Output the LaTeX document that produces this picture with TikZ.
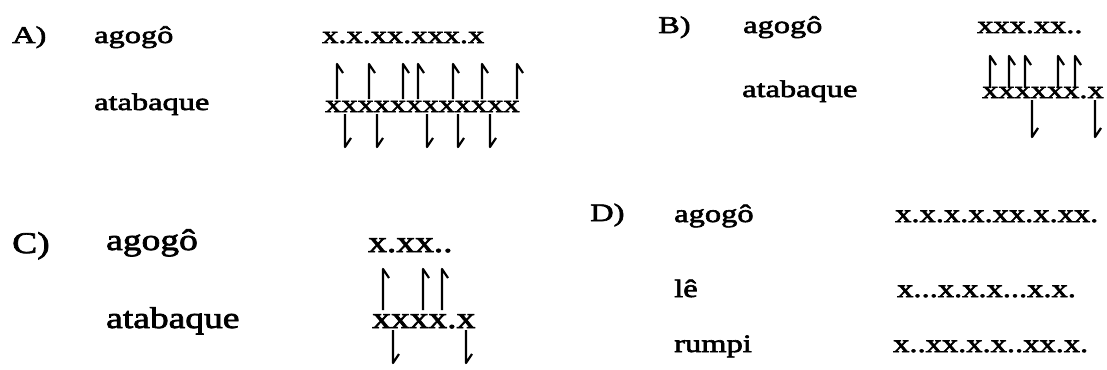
\documentclass[tikz,border=0pt]{standalone}
\usepackage{fontspec}
\setmainfont{Liberation Serif}
\newfontfamily\fontAB{Liberation Serif}[FakeStretch=1.35,FakeBold=2.5]
\newfontfamily\fontC{Liberation Serif}[FakeStretch=1.25,FakeBold=2.5]
\newfontfamily\fontD{Liberation Serif}[FakeStretch=1.3,FakeBold=2.5]

\tikzset{
  txtAB/.style={anchor=base west, inner sep=0pt, font=\fontAB\fontsize{24}{24}\selectfont},
  txtC/.style={anchor=base west, inner sep=0pt, font=\fontC\fontsize{30}{30}\selectfont},
  txtD/.style={anchor=base west, inner sep=0pt, font=\fontD\fontsize{25}{25}\selectfont},
  stroke/.style={line width=2.2pt, line join=round, line cap=butt}
}
% hand strokes: stem plus a barb on the right-hand side
\newcommand\strokeup[3]{\draw[stroke] (#1,#2) -- (#1,#3) -- ++(6,9);}
\newcommand\strokedown[3]{\draw[stroke] (#1,#2) -- (#1,#3) -- ++(6,-9);}

\begin{document}
\begin{tikzpicture}[x=1pt,y=-1pt]
\fill[white] (0,0) rectangle (1107,369);
\useasboundingbox (0,0) rectangle (1107,369);

% ---- A ----
\node[txtAB] (labA) at (12,43) {A)};
\node[txtAB] (agoA) at (94,43) {agogô};
\node[txtAB] (ataA) at (94,110) {atabaque};
\node[txtAB] (patA1) at (322,43) {x.x.xx.xxx.x};
\node[txtAB] (patA2) at (325,112) {xxxxxxxxxxxx};
\foreach \u in {337,369,403,418,453,482,517} {\strokeup{\u}{99}{64}}
\foreach \d in {345,377,427,458,490} {\strokedown{\d}{114}{147}}

% ---- B ----
\node[txtAB] (labB) at (658,33) {B)};
\node[txtAB] (agoB) at (743,33) {agogô};
\node[txtAB] (ataB) at (742,97) {atabaque};
\node[txtAB] (patB1) at (977,33) {xxx.xx..};
\node[txtAB] (patB2) at (982,98) {xxxxxx.x};
\foreach \u in {990,1009,1025,1058,1075} {\strokeup{\u}{88}{56}}
\foreach \d in {1032,1095} {\strokedown{\d}{100}{137}}

% ---- C ----
\node[txtC] (labC) at (12,253) {C)};
\node[txtC] (agoC) at (106,250) {agogô};
\node[txtC] (ataC) at (106,328) {atabaque};
\node[txtC] (patC1) at (368,252) {x.xx..};
\node[txtC] (patC2) at (372,328) {xxxx.x};
\foreach \u in {383,423,442} {\strokeup{\u}{310}{269}}
\foreach \d in {393,466} {\strokedown{\d}{330}{363}}

% ---- D ----
\node[txtD] (labD) at (590,221) {D)};
\node[txtD] (agoD) at (674,222) {agogô};
\node[txtD] (leD) at (674,297) {lê};
\node[txtD] (rumD) at (674,352) {rumpi};
\node[txtD] (patD1) at (895,222) {x.x.x.x.xx.x.xx.};
\node[txtD] (patD2) at (897,297) {x...x.x.x...x.x.};
\node[txtD] (patD3) at (893,352) {x..xx.x.x..xx.x.};
\end{tikzpicture}
\end{document}
